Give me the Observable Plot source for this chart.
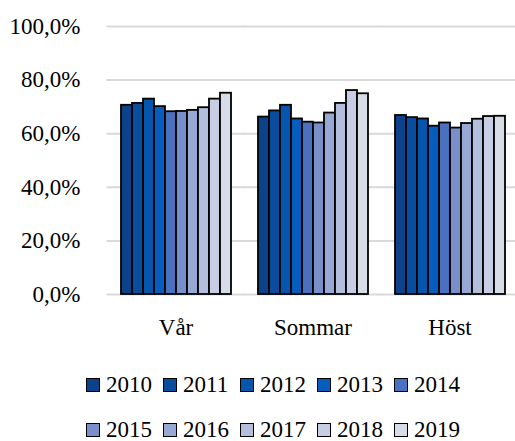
<!DOCTYPE html>
<html>
<head>
<meta charset="utf-8">
<script src="https://cdn.jsdelivr.net/npm/d3@7"></script>
<script src="https://cdn.jsdelivr.net/npm/@observablehq/plot@0.6"></script>
<style>
  body { margin: 0; background: #fff; font-family: "Liberation Serif", serif; overflow: hidden; }
  #legend { width: 515px; margin-top: 10px; font-family: "Liberation Serif", serif; font-size: 23px; line-height: 20px; color: #000; }
  .row { display: flex; padding-left: 86px; height: 45px; align-items: center; }
  .item { display: flex; align-items: center; width: 77px; }
  .sw { width: 12px; height: 12px; border: 1.5px solid #000; margin-right: 6px; }
</style>
</head>
<body>
<div id="chart"></div>
<div id="legend"></div>
<script>
const seasons = ["Vår", "Sommar", "Höst"];
const years = ["2010","2011","2012","2013","2014","2015","2016","2017","2018","2019"];
const colors = ["#0B4289","#0A4C9E","#0656AE","#075DBE","#4A70C0","#7A8FC9","#98A8D5","#B2BEDC","#C7CDE5","#D6DDE6"];
const varValues    = [70.6, 71.3, 72.9, 70.1, 68.2, 68.3, 68.7, 69.7, 72.9, 75.1];
const sommarValues = [66.2, 68.5, 70.6, 65.5, 64.3, 64.0, 67.7, 71.3, 76.1, 74.9];
const hostValues   = [66.8, 66.0, 65.5, 62.8, 64.0, 62.1, 63.8, 65.4, 66.4, 66.5];
const yTicks = [0, 20, 40, 60, 80, 100];

const seriesBySeason = [varValues, sommarValues, hostValues];
const data = [];
seasons.forEach((s, i) => years.forEach((y, j) => data.push({season: s, year: y, value: seriesBySeason[i][j]})));

const fmt = d => d.toFixed(1).replace(".", ",") + "%";

const chart = Plot.plot({
  width: 515,
  height: 352,
  marginLeft: 107,
  marginRight: 0,
  marginTop: 26,
  marginBottom: 58,
  style: {fontFamily: "'Liberation Serif', serif", fontSize: "23px", color: "#000", background: "#fff"},
  fx: {domain: seasons, range: [107, 518], paddingInner: 0.16, paddingOuter: 0.08, label: null, axis: "bottom", tickSize: 0, tickPadding: 24},
  x: {domain: years, padding: 0, axis: null},
  y: {domain: [0, 100], ticks: yTicks, tickFormat: fmt, label: null, tickSize: 0, tickPadding: 38},
  color: {domain: years, range: colors},
  marks: [
    Plot.ruleY(yTicks, {stroke: "#d9d9d9", strokeWidth: 2, insetLeft: -11.5, insetRight: -11.5}),
    Plot.barY(data, {fx: "season", x: "year", y: "value", fill: "year", stroke: "#000", strokeWidth: 1.8})
  ]
});
document.getElementById("chart").appendChild(chart);

const legend = document.getElementById("legend");
[years.slice(0, 5), years.slice(5)].forEach((rowYears, r) => {
  const row = document.createElement("div");
  row.className = "row";
  rowYears.forEach((y, k) => {
    const item = document.createElement("div");
    item.className = "item";
    const sw = document.createElement("div");
    sw.className = "sw";
    sw.style.background = colors[r * 5 + k];
    const t = document.createElement("span");
    t.textContent = y;
    item.appendChild(sw);
    item.appendChild(t);
    row.appendChild(item);
  });
  legend.appendChild(row);
});
</script>
</body>
</html>
